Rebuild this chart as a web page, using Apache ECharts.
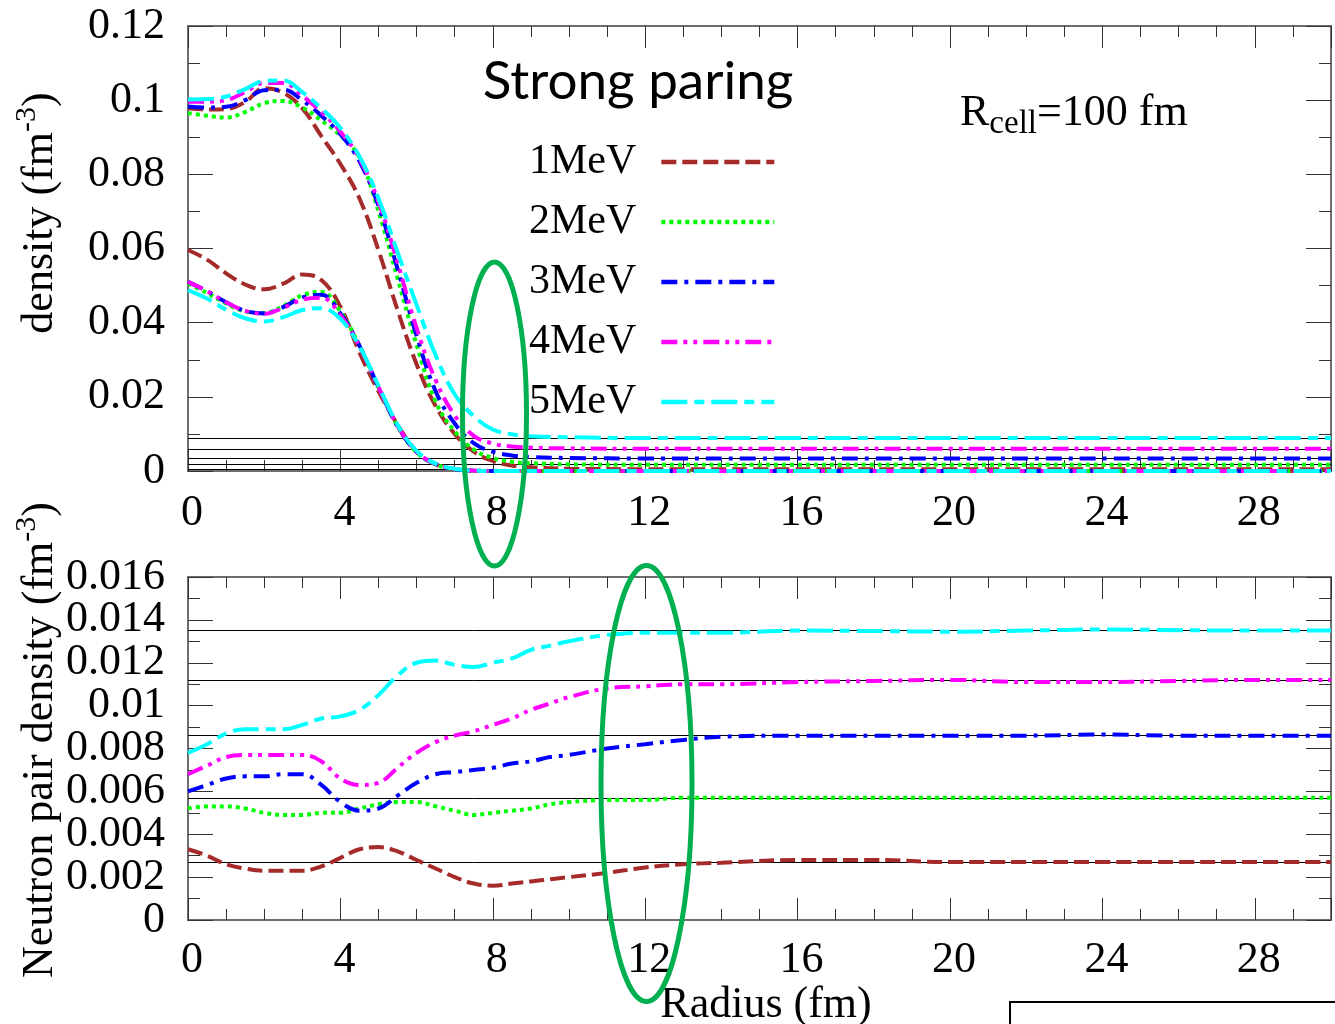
<!DOCTYPE html>
<html><head><meta charset="utf-8">
<script src="https://cdn.jsdelivr.net/npm/echarts@6/dist/echarts.min.js"></script>
<style>html,body{margin:0;padding:0;background:#fff}#c{width:1335px;height:1024px}</style>
</head><body><div id="c"></div>
<script>
// ---------- data ----------
const names = ['1MeV', '2MeV', '3MeV', '4MeV', '5MeV'];

// top panel: radius grid (fm)
const R_TOP = [0,0.5,1,1.5,2,2.5,3,3.5,4,4.5,5,5.5,6,6.5,7,7.5,8,8.5,9,10,12,15,20,25,30];
// neutron density (fm^-3)
const n1 = [0.0978,0.0975,0.0976,0.0995,0.1032,0.1020,0.0978,0.0903,0.0828,0.0735,0.0595,0.0434,0.0288,0.0175,0.0100,0.0052,0.0027,0.0015,0.0010,0.0006,0.0005,0.0005,0.0005,0.0005,0.0005];
const n2 = [0.0965,0.0958,0.0953,0.0968,0.0992,0.0998,0.0980,0.0945,0.0905,0.0845,0.0700,0.0520,0.0340,0.0187,0.0107,0.0058,0.0035,0.0025,0.0021,0.0018,0.0017,0.0017,0.0017,0.0017,0.0017];
const n3 = [0.0983,0.0980,0.0982,0.1000,0.1027,0.1028,0.1000,0.0958,0.0908,0.0835,0.0715,0.0545,0.0365,0.0215,0.0128,0.0075,0.0052,0.0042,0.0038,0.0035,0.0034,0.0034,0.0034,0.0034,0.0034];
const n4 = [0.0996,0.0996,0.1000,0.1022,0.1046,0.1046,0.1012,0.0968,0.0915,0.0842,0.0725,0.0562,0.0385,0.0245,0.0150,0.0095,0.0074,0.0066,0.0063,0.0061,0.0060,0.0060,0.0060,0.0060,0.0060];
const n5 = [0.1002,0.1003,0.1010,0.1030,0.1052,0.1053,0.1022,0.0978,0.0925,0.0848,0.0735,0.0590,0.0448,0.0312,0.0207,0.0148,0.0112,0.0099,0.0094,0.0091,0.0089,0.0089,0.0089,0.0089,0.0089];
// proton density (fm^-3)
const p1 = [0.0596,0.0570,0.0533,0.0503,0.0490,0.0505,0.0530,0.0515,0.0443,0.0320,0.0215,0.0125,0.0053,0.0018,0.0005,0.0001,0,0,0,0,0,0,0,0,0];
const p2 = [0.0505,0.0480,0.0452,0.0430,0.0426,0.0445,0.0474,0.0483,0.0430,0.0338,0.0225,0.0120,0.0050,0.0018,0.0005,0.0001,0,0,0,0,0,0,0,0,0];
const p3 = [0.0510,0.0485,0.0455,0.0432,0.0425,0.0442,0.0468,0.0475,0.0425,0.0338,0.0226,0.0121,0.0051,0.0019,0.0005,0.0001,0,0,0,0,0,0,0,0,0];
const p4 = [0.0510,0.0485,0.0455,0.0432,0.0424,0.0440,0.0462,0.0467,0.0420,0.0336,0.0226,0.0122,0.0052,0.0019,0.0006,0.0001,0,0,0,0,0,0,0,0,0];
const p5 = [0.0488,0.0465,0.0435,0.0412,0.0403,0.0415,0.0434,0.0439,0.0410,0.0336,0.0230,0.0125,0.0054,0.0020,0.0006,0.0001,0,0,0,0,0,0,0,0,0];
// gas-density reference lines (top)
const topLines = [0.0089, 0.0060, 0.0034, 0.0017, 0.0005];

// bottom panel: radius grid (fm)
const R_BOT = [0,0.5,1,1.5,2,2.5,3,3.5,4,4.5,5,5.5,6,6.5,7,7.5,8,8.5,9,9.5,10,11,12,13,14,16,18,20,22,24,26,28,30];
// neutron pair density (fm^-3)
const d1 = [0.0033,0.0030,0.0026,0.0024,0.0023,0.0023,0.0023,0.0025,0.0029,0.0033,0.0034,0.0032,0.0028,0.0024,0.0020,0.0017,0.0016,0.0017,0.0018,0.0019,0.0020,0.0022,0.00245,0.0026,0.00267,0.0028,0.0028,0.0027,0.0027,0.0027,0.0027,0.0027,0.0027];
const d2 = [0.0052,0.0053,0.0053,0.0052,0.0050,0.0049,0.0049,0.0050,0.0050,0.0052,0.0054,0.0055,0.0055,0.0053,0.0051,0.0049,0.0050,0.0051,0.0052,0.0054,0.0055,0.0056,0.0056,0.0057,0.0057,0.0057,0.0057,0.0057,0.0057,0.0057,0.0057,0.0057,0.0057];
const d3 = [0.0060,0.0063,0.0066,0.0067,0.0067,0.0068,0.0068,0.0063,0.0055,0.0051,0.0052,0.0058,0.0064,0.0068,0.0069,0.0070,0.0071,0.0073,0.0074,0.0076,0.0077,0.0080,0.0082,0.0084,0.00855,0.0086,0.0086,0.0086,0.0086,0.00865,0.0086,0.0086,0.0086];
const d4 = [0.0068,0.0072,0.0076,0.0077,0.0077,0.0077,0.0077,0.0074,0.0066,0.0063,0.0064,0.0071,0.0078,0.0083,0.0086,0.0088,0.0091,0.0094,0.0098,0.0101,0.0104,0.0108,0.0109,0.0110,0.0110,0.0111,0.01115,0.0112,0.0111,0.0111,0.01115,0.0112,0.0112];
const d5 = [0.0078,0.0082,0.0087,0.0089,0.0089,0.0089,0.0091,0.0094,0.0095,0.0098,0.0105,0.0114,0.0120,0.0121,0.0119,0.0118,0.0120,0.0122,0.0126,0.0128,0.0130,0.0133,0.0134,0.0134,0.0134,0.0135,0.01348,0.01345,0.0135,0.01355,0.01352,0.0135,0.0135];
const botLines = [0.0135, 0.0112, 0.0086, 0.0057, 0.0027];

// tick labels
const xLabels = ['0','4','8','12','16','20','24','28'];
const topYLabels = ['0','0.02','0.04','0.06','0.08','0.1','0.12'];
const botYLabels = ['0','0.002','0.004','0.006','0.008','0.01','0.012','0.014','0.016'];

// ---------- styles ----------
const colors = ['#a52a2a', '#00ff00', '#0000ff', '#ff00ff', '#00ffff'];
const dashes = [[15,6], [4,4], [16,7,4,7], [16,6,4,6,4,6], [26,7,10,7]];
const serif = 'Liberation Serif';
const neutron = [n1,n2,n3,n4,n5], proton = [p1,p2,p3,p4,p5], pair = [d1,d2,d3,d4,d5];

function pairs(R, V) { return R.map((r, i) => [r, V[i]]); }

const axisLineStyle = { color: '#6e6e6e', width: 2 };
const tickStyle = { color: '#333', width: 1 };

function xAx(grid, pos, labelMargin) {
  return {
    type: 'value', gridIndex: grid, position: pos, min: 0, max: 30, interval: 4,
    axisLine: { show: true, onZero: false, lineStyle: axisLineStyle },
    axisTick: { show: true, inside: true, length: 22, lineStyle: tickStyle },
    minorTick: { show: true, splitNumber: 4, length: 11, lineStyle: tickStyle },
    splitLine: { show: false },
    axisLabel: {
      show: pos === 'bottom', margin: labelMargin, fontFamily: serif, fontSize: 44, color: '#000',
      showMinLabel: true, showMaxLabel: false, padding: [0, 0, 0, 8],
      formatter: v => xLabels[Math.round(v / 4)] || ''
    }
  };
}
function yAx(grid, pos, max, step, labels, showLabels) {
  return {
    type: 'value', gridIndex: grid, position: pos, min: 0, max: max, interval: step,
    axisLine: { show: true, onZero: false, lineStyle: axisLineStyle },
    axisTick: { show: true, inside: true, length: 25, lineStyle: tickStyle },
    minorTick: { show: true, splitNumber: 2, length: 12, lineStyle: tickStyle },
    splitLine: { show: false },
    axisLabel: {
      show: showLabels, margin: 23, fontFamily: serif, fontSize: 44, color: '#000',
      showMinLabel: true, showMaxLabel: true,
      formatter: v => labels[Math.round(v / step)] || ''
    }
  };
}
// label-only category axis for the crowded pair-density ticks (all labels forced visible)
const botLabelAxis = {
  type: 'category', gridIndex: 1, position: 'left', boundaryGap: false, data: botYLabels,
  axisLine: { show: false }, axisTick: { show: false }, splitLine: { show: false },
  axisLabel: { show: true, interval: 0, margin: 23, fontFamily: serif, fontSize: 44, lineHeight: 30, color: '#000', hideOverlap: false }
};

const refLine = vals => ({
  silent: true, precision: 6, symbol: ['none', 'none'], label: { show: false },
  lineStyle: { color: '#000', width: 1, type: 'solid' },
  emphasis: { disabled: true }, z: 1,
  data: vals.map(v => ({ yAxis: v }))
});

const series = [];
for (let i = 0; i < 5; i++) {
  const base = {
    name: names[i], type: 'line', smooth: 0.4, symbol: 'none', showSymbol: false,
    lineStyle: { color: colors[i], width: 4, type: dashes[i] },
    itemStyle: { color: colors[i] }, emphasis: { disabled: true }, z: 3
  };
  series.push(Object.assign({}, base, { xAxisIndex: 0, yAxisIndex: 0, data: pairs(R_TOP, neutron[i]),
    markLine: i === 0 ? refLine(topLines) : undefined }));
  series.push(Object.assign({}, base, { xAxisIndex: 0, yAxisIndex: 0, data: pairs(R_TOP, proton[i]) }));
  series.push(Object.assign({}, base, { xAxisIndex: 2, yAxisIndex: 2, data: pairs(R_BOT, pair[i]),
    markLine: i === 0 ? refLine(botLines) : undefined }));
}

const chart = echarts.init(document.getElementById('c'), null, { renderer: 'canvas' });
chart.setOption({
  animation: false,
  backgroundColor: '#fff',
  grid: [
    { left: 188, right: 4, top: 26, height: 445 },
    { left: 188, right: 4, top: 577, height: 343 }
  ],
  xAxis: [xAx(0, 'bottom', 20), xAx(0, 'top', 8), xAx(1, 'bottom', 18), xAx(1, 'top', 8)],
  yAxis: [
    yAx(0, 'left', 0.12, 0.02, topYLabels, true), yAx(0, 'right', 0.12, 0.02, topYLabels, false),
    yAx(1, 'left', 0.016, 0.002, botYLabels, false), yAx(1, 'right', 0.016, 0.002, botYLabels, false),
    botLabelAxis
  ],
  legend: {
    data: names, orient: 'vertical', left: 524, top: 135, align: 'right',
    itemWidth: 113, itemHeight: 14, itemGap: 16, selectedMode: false,
    itemStyle: { color: 'rgba(0,0,0,0)', borderWidth: 0, opacity: 0 },
    lineStyle: { width: 4.5 },
    textStyle: { fontFamily: serif, fontSize: 42, color: '#000', lineHeight: 44, padding: [0, 20, 0, 0] }
  },
  series: series,
  graphic: [
    { type: 'text', x: 638, y: 82, z: 10,
      style: { text: 'Strong paring', fontFamily: 'Lato', fontSize: 53, fill: '#000', align: 'center', verticalAlign: 'middle' } },
    { type: 'text', x: 960, y: 113, z: 10,
      style: { text: 'R{sub|cell}=100 fm', fontFamily: serif, fontSize: 44, fill: '#000', align: 'left', verticalAlign: 'middle',
        rich: { sub: { fontFamily: serif, fontSize: 33, verticalAlign: 'bottom', lineHeight: 56 } } } },
    { type: 'text', x: 40, y: 213, rotation: Math.PI / 2, z: 10,
      style: { text: 'density (fm{sup|-3})', fontFamily: serif, fontSize: 44, fill: '#000', align: 'center', verticalAlign: 'middle',
        rich: { sup: { fontFamily: serif, fontSize: 30, verticalAlign: 'top', lineHeight: 56 } } } },
    { type: 'text', x: 40, y: 740, rotation: Math.PI / 2, z: 10,
      style: { text: 'Neutron pair density (fm{sup|-3})', fontFamily: serif, fontSize: 44, fill: '#000', align: 'center', verticalAlign: 'middle',
        rich: { sup: { fontFamily: serif, fontSize: 30, verticalAlign: 'top', lineHeight: 56 } } } },
    { type: 'text', x: 766, y: 1005, z: 10,
      style: { text: 'Radius (fm)', fontFamily: serif, fontSize: 44, fill: '#000', align: 'center', verticalAlign: 'middle' } },
    { type: 'ellipse', z: 20, shape: { cx: 494.5, cy: 414, rx: 32, ry: 152 },
      style: { fill: 'none', stroke: '#00b050', lineWidth: 5 } },
    { type: 'ellipse', z: 20, shape: { cx: 646.5, cy: 783.5, rx: 45.5, ry: 218 },
      style: { fill: 'none', stroke: '#00b050', lineWidth: 5 } },
    { type: 'rect', z: 10, shape: { x: 1010, y: 1002, width: 340, height: 60 },
      style: { fill: 'none', stroke: '#000', lineWidth: 2 } }
  ]
});
</script>
</body></html>
